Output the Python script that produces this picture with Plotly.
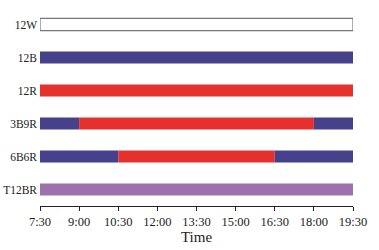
import plotly.graph_objects as go

rows = ["12W", "12B", "12R", "3B9R", "6B6R", "T12BR"]
# segments: (row, start hour, end hour, light)
seg_row = ["12W", "12B", "12R", "3B9R", "3B9R", "3B9R", "6B6R", "6B6R", "6B6R", "T12BR"]
seg_start = [7.5, 7.5, 7.5, 7.5, 9.0, 18.0, 7.5, 10.5, 16.5, 7.5]
seg_end = [19.5, 19.5, 19.5, 9.0, 18.0, 19.5, 10.5, 16.5, 19.5, 19.5]
seg_light = ["W", "B", "R", "B", "R", "B", "B", "R", "B", "BR"]

tick_vals = [7.5, 9.0, 10.5, 12.0, 13.5, 15.0, 16.5, 18.0, 19.5]
tick_text = ["7:30", "9:00", "10:30", "12:00", "13:30", "15:00", "16:30", "18:00", "19:30"]

colors = {"W": "#ffffff", "B": "#46418a", "R": "#e5312e", "BR": "#9b72ad"}
lines = {"W": ("#777777", 1.2), "B": ("#46418a", 0), "R": ("#e5312e", 0), "BR": ("#9b72ad", 0)}

fig = go.Figure()
for r, s, e, l in zip(seg_row, seg_start, seg_end, seg_light):
    fig.add_trace(go.Bar(
        orientation="h", y=[r], x=[e - s], base=[s],
        marker=dict(color=colors[l], line=dict(color=lines[l][0], width=lines[l][1])),
        width=0.37, showlegend=False, hoverinfo="skip"))

font = "Liberation Serif, Times New Roman, serif"
fig.update_layout(
    width=379, height=250,
    margin=dict(l=40, r=26, t=8, b=44),
    paper_bgcolor="white", plot_bgcolor="white",
    barmode="overlay",
    font=dict(family=font, size=12.5, color="#222222"),
    xaxis=dict(range=[7.5, 19.5], tickvals=tick_vals, ticktext=tick_text,
               showgrid=False, zeroline=False, showline=True, linecolor="#222222",
               linewidth=1, ticks="outside", ticklen=4, tickcolor="#222222",
               automargin=False,
               title=dict(text="Time", font=dict(size=15, family=font), standoff=2)),
    yaxis=dict(categoryorder="array", categoryarray=rows, autorange=False,
               range=[5.5, -0.5], showgrid=False, zeroline=False, showline=False,
               ticks="", ticklabelstandoff=2, automargin=False,
               tickfont=dict(size=11.5, family=font)),
)
fig.write_html("out.html")
